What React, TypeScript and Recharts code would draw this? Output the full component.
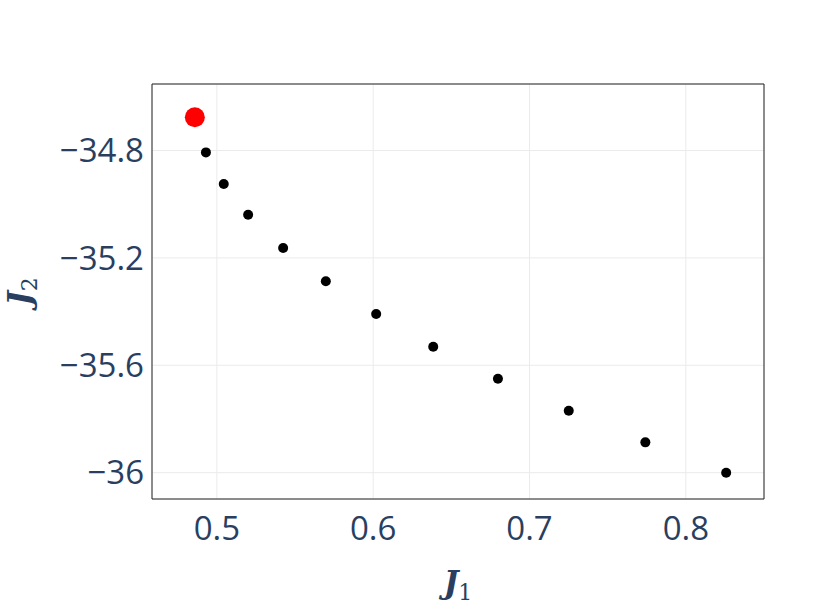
import { ScatterChart, Scatter, XAxis, YAxis, CartesianGrid, ReferenceArea } from 'recharts';

// Pareto front points, J1 vs J2
const j1Values = [0.4930, 0.5044, 0.5200, 0.5424, 0.5697, 0.6019, 0.6384, 0.6798, 0.7251, 0.7741, 0.8258];
const j2Values = [-34.807, -34.925, -35.039, -35.163, -35.287, -35.409, -35.531, -35.650, -35.769, -35.887, -36.0];

// highlighted point
const bestJ1 = [0.4859];
const bestJ2 = [-34.676];

const xTicks = [0.5, 0.6, 0.7, 0.8];
const yTicks = [-36, -35.6, -35.2, -34.8];

const xDomain = [0.4585, 0.85];
const yDomain = [-36.098, -34.5523];

const frontData = j1Values.map((x, i) => ({ x, y: j2Values[i] }));
const bestData = bestJ1.map((x, i) => ({ x, y: bestJ2[i] }));

const axisColor = '#2a3f5f';
const fmt = (v: number) => String(v).replace('-', '\u2212');

export default function App() {
    return (
        <div style={{ position: 'absolute', left: 0, top: 0, width: 831, height: 610, background: '#fff' }}>
            <ScatterChart width={831} height={610} margin={{ top: 84, right: 67, bottom: 0, left: 0 }}>
                <CartesianGrid stroke="#ebebeb" strokeWidth={1} />
                <XAxis
                    type="number"
                    dataKey="x"
                    domain={xDomain}
                    ticks={xTicks}
                    allowDataOverflow
                    height={111}
                    axisLine={false}
                    tickLine={false}
                    tickSize={0}
                    tickMargin={18}
                    tick={{ fill: axisColor, fontSize: 33, fontFamily: 'Open Sans' }}
                    tickFormatter={fmt}
                    label={{
                        content: (p: any) => {
                            const vb = p.viewBox;
                            return (
                                <text x={vb.x + vb.width / 2} y={vb.y + 94} textAnchor="middle" fill={axisColor} fontFamily="DejaVu Serif" fontSize={31} fontWeight="bold">
                                    <tspan fontStyle="italic">J</tspan>
                                    <tspan fontSize={22} dy={7} fontWeight="normal">1</tspan>
                                </text>
                            );
                        },
                    }}
                />
                <YAxis
                    type="number"
                    dataKey="y"
                    domain={yDomain}
                    ticks={yTicks}
                    allowDataOverflow
                    width={152}
                    axisLine={false}
                    tickLine={false}
                    tickSize={0}
                    tickMargin={8}
                    tick={{ fill: axisColor, fontSize: 33, fontFamily: 'Open Sans' }}
                    tickFormatter={fmt}
                    label={{
                        content: (p: any) => {
                            const vb = p.viewBox;
                            const cx = vb.x + 30;
                            const cy = vb.y + vb.height / 2;
                            return (
                                <text x={cx} y={cy} textAnchor="middle" fill={axisColor} fontFamily="DejaVu Serif" fontSize={31} fontWeight="bold" transform={`rotate(-90 ${cx} ${cy})`}>
                                    <tspan fontStyle="italic">J</tspan>
                                    <tspan fontSize={22} dy={7} fontWeight="normal">2</tspan>
                                </text>
                            );
                        },
                    }}
                />
                <ReferenceArea
                    x1={xDomain[0]}
                    x2={xDomain[1]}
                    y1={yDomain[0]}
                    y2={yDomain[1]}
                    fill="none"
                    stroke="#222"
                    strokeWidth={1}
                    ifOverflow="visible"
                />
                <Scatter
                    data={frontData}
                    fill="#000"
                    isAnimationActive={false}
                    shape={(p: any) => <circle cx={p.cx} cy={p.cy} r={5} fill="#000" />}
                />
                <Scatter
                    data={bestData}
                    fill="#ff0000"
                    isAnimationActive={false}
                    shape={(p: any) => <circle cx={p.cx} cy={p.cy} r={10} fill="#ff0000" />}
                />
            </ScatterChart>
        </div>
    );
}
